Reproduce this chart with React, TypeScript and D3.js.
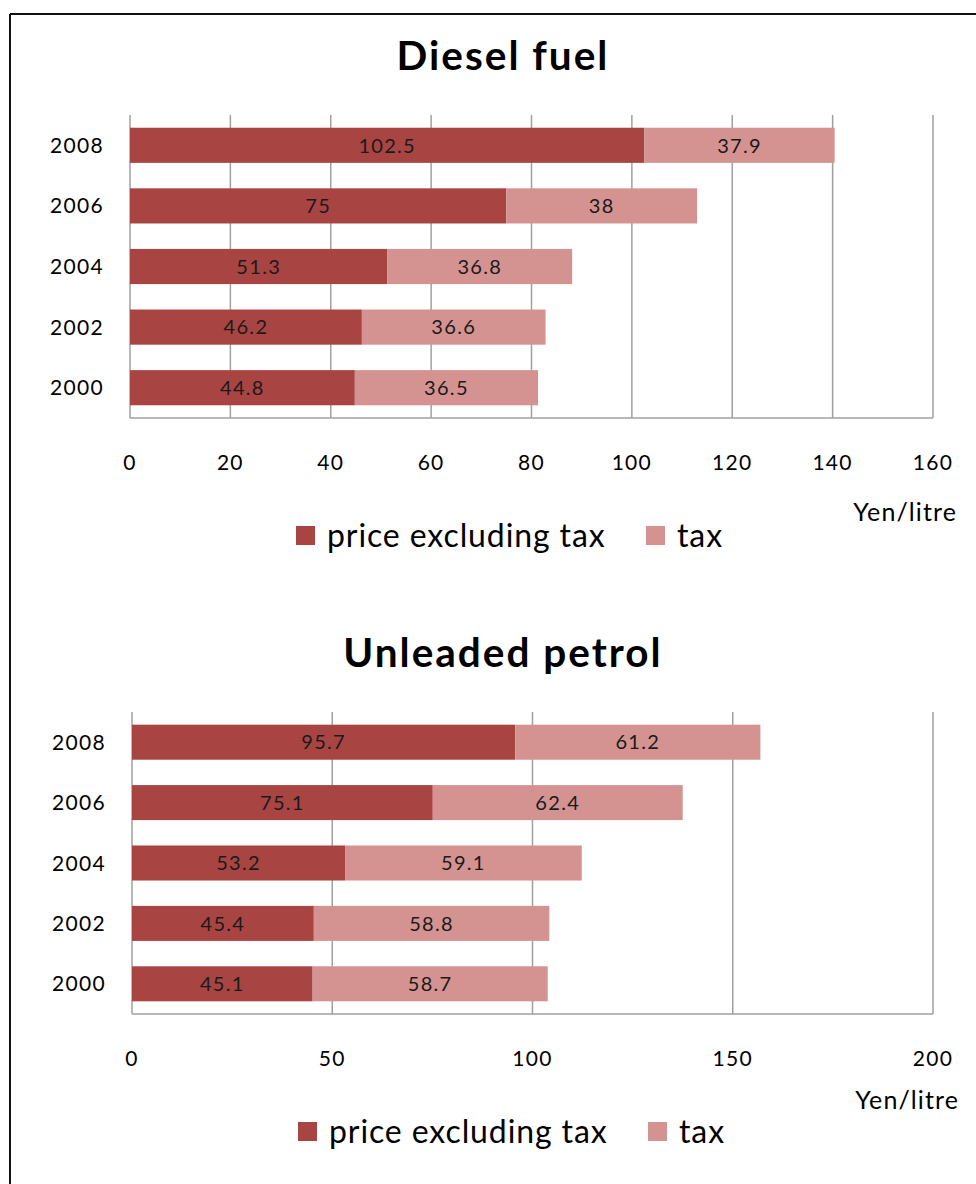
import React from "react";
import * as d3 from "d3";

const years = ["2008", "2006", "2004", "2002", "2000"];
const dieselPrice = [102.5, 75, 51.3, 46.2, 44.8];
const dieselTax = [37.9, 38, 36.8, 36.6, 36.5];
const petrolPrice = [95.7, 75.1, 53.2, 45.4, 45.1];
const petrolTax = [61.2, 62.4, 59.1, 58.8, 58.7];
const dieselTicks = [0, 20, 40, 60, 80, 100, 120, 140, 160];
const petrolTicks = [0, 50, 100, 150, 200];
const seriesNames = ["price excluding tax", "tax"];
const unitLabel = "Yen/litre";

const DARK = "#A84543";
const LIGHT = "#D49391";
const GRID = "#A0A0A0";
const FONT = "Lato, 'Open Sans', sans-serif";

type PanelProps = {
  title: string;
  price: number[];
  tax: number[];
  ticks: number[];
  x0: number;
  x1: number;
  top: number;
  bottom: number;
  titleY: number;
  tickY: number;
  unitY: number;
  unitX: number;
  legendY: number;
  legendX: number;
};

function Panel(p: PanelProps) {
  const xMax = p.ticks[p.ticks.length - 1];
  const x = d3.scaleLinear().domain([0, xMax]).range([p.x0, p.x1]);
  const y = d3
    .scaleBand<string>()
    .domain(years)
    .range([p.top, p.bottom])
    .paddingInner(0.42)
    .paddingOuter(0.21);
  const fmt = (v: number) => String(v);
  const small = { fontFamily: FONT, fontSize: 20, letterSpacing: 1.3 } as const;
  return (
    <g>
      <text
        x={503}
        y={p.titleY}
        textAnchor="middle"
        fontFamily={FONT}
        fontWeight="bold"
        fontSize={40.5}
        letterSpacing={2}
        fill="#000"
      >
        {p.title}
      </text>
      {p.ticks.map((t) => (
        <line
          key={"g" + t}
          x1={x(t)}
          x2={x(t)}
          y1={p.top}
          y2={p.bottom}
          stroke={GRID}
          strokeWidth={1.5}
        />
      ))}
      <line x1={p.x0} x2={p.x1} y1={p.bottom} y2={p.bottom} stroke={GRID} strokeWidth={1.5} />
      {years.map((yr, i) => {
        const by = y(yr)!;
        const bh = y.bandwidth();
        const xs = x(0);
        const xp = x(p.price[i]);
        const xt = x(p.price[i] + p.tax[i]);
        return (
          <g key={yr}>
            <rect x={xs} y={by} width={xp - xs} height={bh} fill={DARK} />
            <rect x={xp} y={by} width={xt - xp} height={bh} fill={LIGHT} />
            <text
              x={(xs + xp) / 2}
              y={by + bh / 2}
              dy="0.36em"
              textAnchor="middle"
              {...small}
              fill="#1a1a1a"
            >
              {fmt(p.price[i])}
            </text>
            <text
              x={(xp + xt) / 2}
              y={by + bh / 2}
              dy="0.36em"
              textAnchor="middle"
              {...small}
              fill="#1a1a1a"
            >
              {fmt(p.tax[i])}
            </text>
            <text
              x={p.x0 - 26}
              y={by + bh / 2}
              dy="0.36em"
              textAnchor="end"
              {...small}
              fontSize={21}
              fill="#000"
            >
              {yr}
            </text>
          </g>
        );
      })}
      {p.ticks.map((t) => (
        <text
          key={"t" + t}
          x={x(t)}
          y={p.tickY}
          dy="0.36em"
          textAnchor="middle"
          {...small}
          fontSize={21}
          fill="#000"
        >
          {t}
        </text>
      ))}
      <text
        x={p.unitX}
        y={p.unitY}
        textAnchor="end"
        fontFamily={FONT}
        fontSize={25}
        letterSpacing={1.1}
        fill="#000"
      >
        {unitLabel}
      </text>
      <g>
        <rect x={p.legendX} y={p.legendY - 9} width={19} height={19} fill={DARK} />
        <text
          x={p.legendX + 31}
          y={p.legendY}
          dy="0.36em"
          fontFamily={FONT}
          fontSize={32}
          letterSpacing={0.9}
          fill="#000"
        >
          {seriesNames[0]}
        </text>
        <rect x={p.legendX + 350} y={p.legendY - 9} width={19} height={19} fill={LIGHT} />
        <text
          x={p.legendX + 381}
          y={p.legendY}
          dy="0.36em"
          fontFamily={FONT}
          fontSize={32}
          letterSpacing={0.9}
          fill="#000"
        >
          {seriesNames[1]}
        </text>
      </g>
    </g>
  );
}

export default function App() {
  return (
    <div style={{ position: "absolute", left: 0, top: 0 }}>
      <svg width={976} height={1184} style={{ display: "block", background: "#fff" }}>
        <rect x={0} y={0} width={976} height={1184} fill="#fff" />
        <line x1={10} x2={976} y1={14} y2={14} stroke="#111" strokeWidth={2} />
        <line x1={10} x2={10} y1={14} y2={1184} stroke="#111" strokeWidth={2} />
        <Panel
          title="Diesel fuel"
          price={dieselPrice}
          tax={dieselTax}
          ticks={dieselTicks}
          x0={130}
          x1={933}
          top={115}
          bottom={418}
          titleY={70}
          tickY={462}
          unitX={957}
          unitY={521}
          legendY={535}
          legendX={296}
        />
        <Panel
          title="Unleaded petrol"
          price={petrolPrice}
          tax={petrolTax}
          ticks={petrolTicks}
          x0={132}
          x1={933}
          top={712}
          bottom={1014}
          titleY={667}
          tickY={1058}
          unitX={959}
          unitY={1109}
          legendY={1131}
          legendX={298}
        />
      </svg>
    </div>
  );
}
